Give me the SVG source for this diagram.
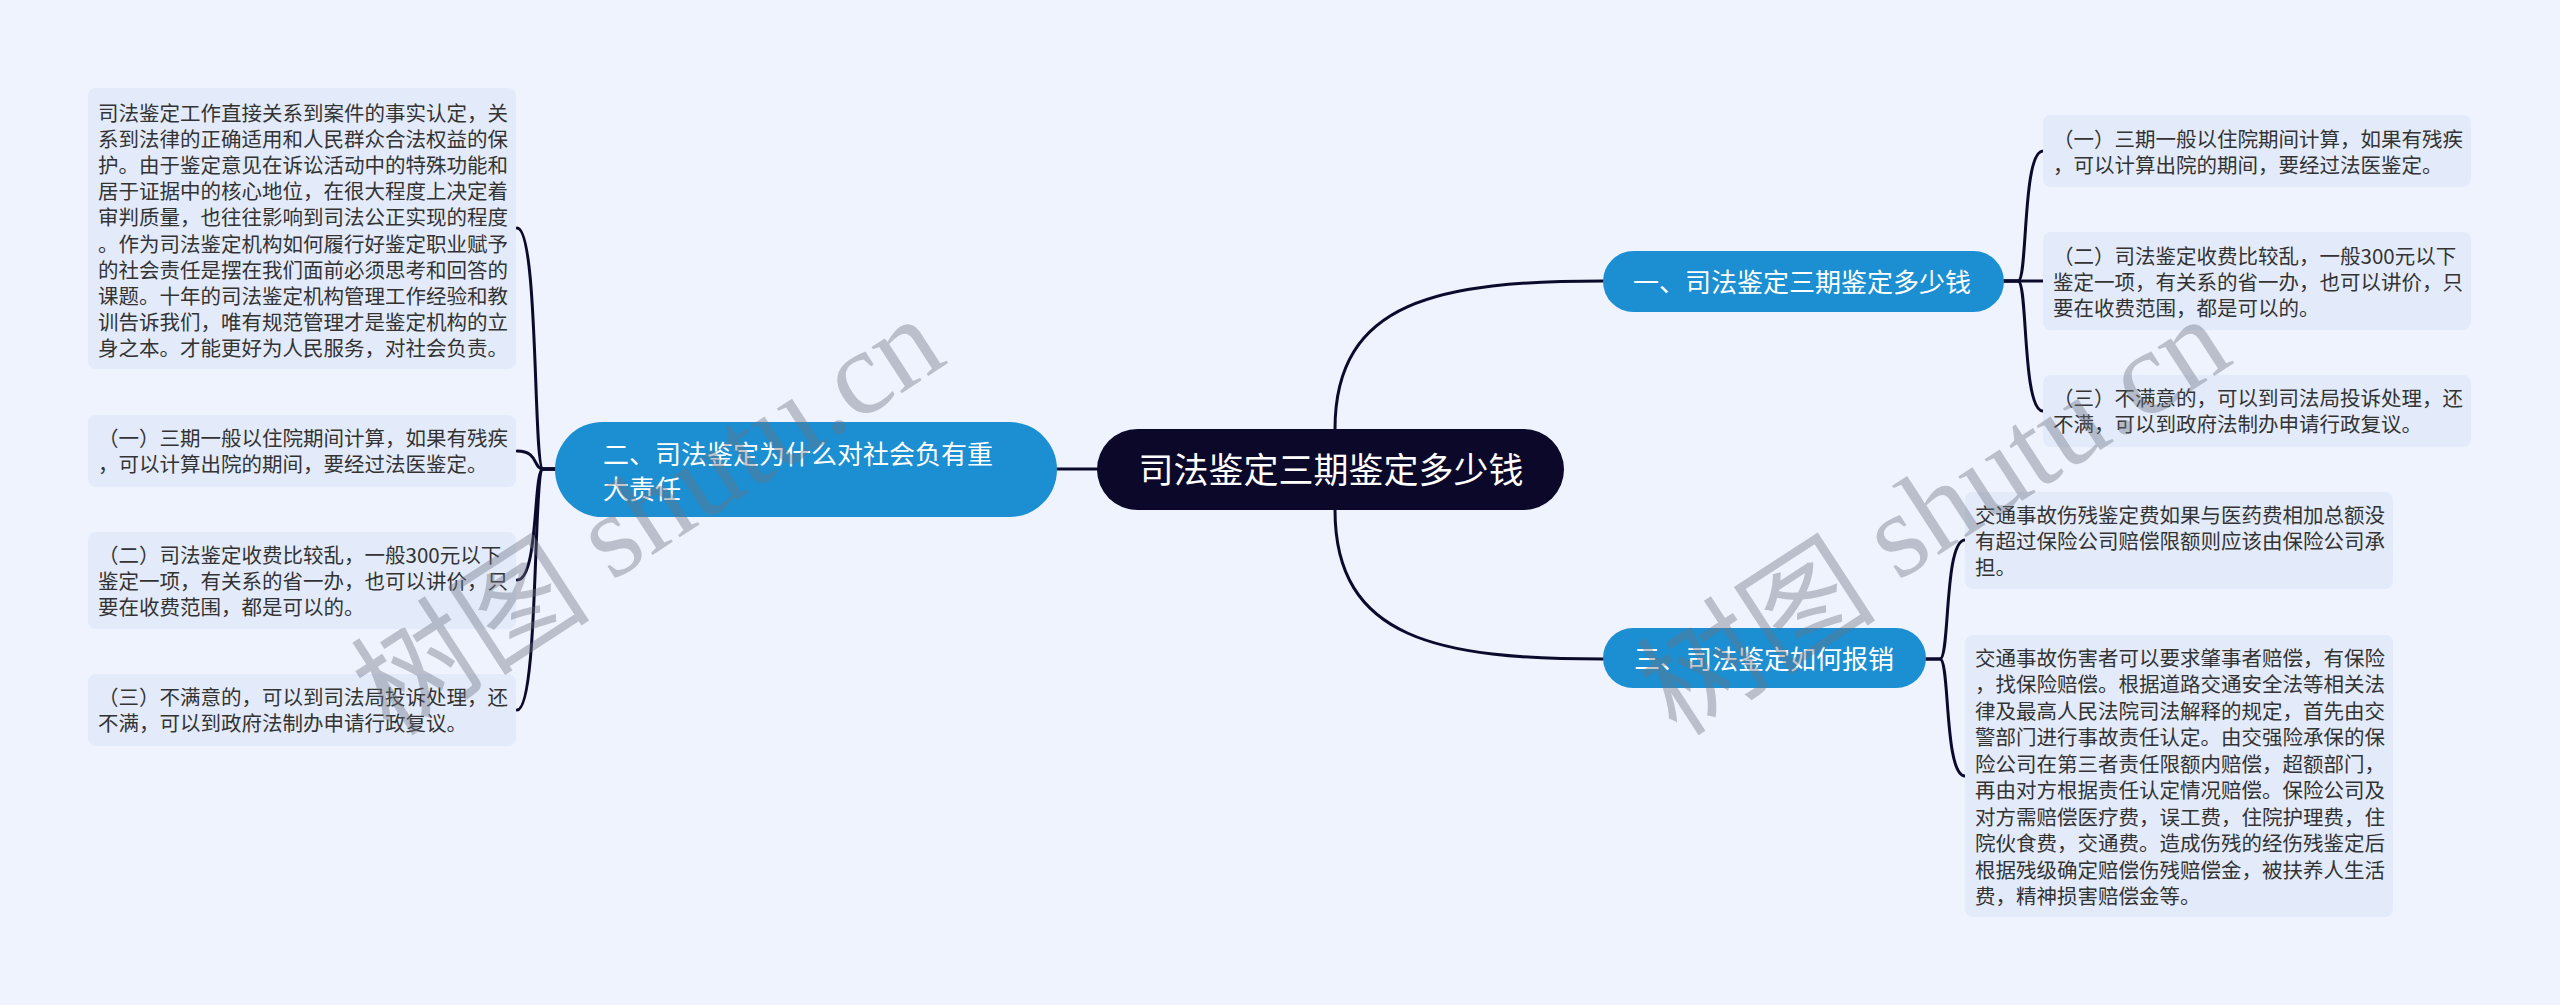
<svg xmlns="http://www.w3.org/2000/svg" width="2560" height="1005" viewBox="0 0 2560 1005">
<style>
.bg{fill:#EEF3FD}
.box{fill:#E3EBFA}
.sub{fill:#1B8FD2}
.root{fill:#0C0829}
.t{font-family:"Noto Sans CJK SC","Noto Sans",sans-serif;font-size:20.5px;fill:#333333}
.st{font-family:"Noto Sans CJK SC","Noto Sans",sans-serif;font-size:26px;fill:#FFFFFF}
.rt{font-family:"Noto Sans CJK SC","Noto Sans",sans-serif;font-size:35px;fill:#FFFFFF}
.ln{fill:none;stroke:#0C0A2C;stroke-width:3;stroke-linecap:round}
.wm{font-size:120px;fill:#6B7080;fill-opacity:0.4}
.wmc{font-family:"Noto Sans CJK SC",sans-serif}
.wml{font-family:"Liberation Serif",serif}
</style>
<rect class="bg" x="0" y="0" width="2560" height="1005"/>

<g id="connectors">
<path class="ln" d="M1057,469 H1097"/>
<path class="ln" d="M1335,429 C1335,300 1440,281 1603,281"/>
<path class="ln" d="M1335,510 C1335,640 1440,659 1603,659"/>
<path class="ln" d="M555,469 L543,469 C533,469 539,228 517,228"/>
<path class="ln" d="M555,469 L543,469 C533,469 539,451 517,451"/>
<path class="ln" d="M555,469 L543,469 C533,469 539,580 517,580"/>
<path class="ln" d="M555,469 L543,469 C533,469 539,710 517,710"/>
<path class="ln" d="M2004,281 L2018,281 C2028,281 2022,151 2043,151"/>
<path class="ln" d="M2004,281 H2043"/>
<path class="ln" d="M2004,281 L2018,281 C2028,281 2022,411 2043,411"/>
<path class="ln" d="M1926,659 L1940,659 C1950,659 1944,540 1965,540"/>
<path class="ln" d="M1926,659 L1940,659 C1950,659 1944,776 1965,776"/>
</g>

<g id="root">
<rect class="root" x="1097" y="429" width="467" height="81" rx="40.5"/>
<text class="rt" x="1331" y="483" text-anchor="middle">司法鉴定三期鉴定多少钱</text>
</g>

<g id="node-1">
<rect class="sub" x="1603" y="251" width="401" height="61" rx="30.5"/>
<text class="st" x="1633" y="292">一、司法鉴定三期鉴定多少钱</text>
</g>

<g id="node-2">
<rect class="sub" x="555" y="422" width="502" height="95" rx="47.5"/>
<text class="st" x="603" y="464">二、司法鉴定为什么对社会负有重</text>
<text class="st" x="603" y="499">大责任</text>
</g>

<g id="node-3">
<rect class="sub" x="1603" y="628" width="323" height="60" rx="30"/>
<text class="st" x="1634" y="669">三、司法鉴定如何报销</text>
</g>

<g id="box-l1">
<rect class="box" x="88" y="88" width="428" height="281" rx="8"/>
<text class="t" x="98" y="121">司法鉴定工作直接关系到案件的事实认定，关</text>
<text class="t" x="98" y="147">系到法律的正确适用和人民群众合法权益的保</text>
<text class="t" x="98" y="173">护。由于鉴定意见在诉讼活动中的特殊功能和</text>
<text class="t" x="98" y="199">居于证据中的核心地位，在很大程度上决定着</text>
<text class="t" x="98" y="225">审判质量，也往往影响到司法公正实现的程度</text>
<text class="t" x="98" y="252">。作为司法鉴定机构如何履行好鉴定职业赋予</text>
<text class="t" x="98" y="278">的社会责任是摆在我们面前必须思考和回答的</text>
<text class="t" x="98" y="304">课题。十年的司法鉴定机构管理工作经验和教</text>
<text class="t" x="98" y="330">训告诉我们，唯有规范管理才是鉴定机构的立</text>
<text class="t" x="98" y="356">身之本。才能更好为人民服务，对社会负责。</text>
</g>

<g id="box-l2">
<rect class="box" x="88" y="415" width="428" height="72" rx="8"/>
<text class="t" x="98" y="446">（一）三期一般以住院期间计算，如果有残疾</text>
<text class="t" x="98" y="472">，可以计算出院的期间，要经过法医鉴定。</text>
</g>

<g id="box-l3">
<rect class="box" x="88" y="532" width="428" height="97" rx="8"/>
<text class="t" x="98" y="563">（二）司法鉴定收费比较乱，一般300元以下</text>
<text class="t" x="98" y="589">鉴定一项，有关系的省一办，也可以讲价，只</text>
<text class="t" x="98" y="615">要在收费范围，都是可以的。</text>
</g>

<g id="box-l4">
<rect class="box" x="88" y="674" width="428" height="72" rx="8"/>
<text class="t" x="98" y="705">（三）不满意的，可以到司法局投诉处理，还</text>
<text class="t" x="98" y="731">不满，可以到政府法制办申请行政复议。</text>
</g>

<g id="box-r1">
<rect class="box" x="2043" y="115" width="428" height="72" rx="8"/>
<text class="t" x="2053" y="147">（一）三期一般以住院期间计算，如果有残疾</text>
<text class="t" x="2053" y="173">，可以计算出院的期间，要经过法医鉴定。</text>
</g>

<g id="box-r2">
<rect class="box" x="2043" y="232" width="428" height="98" rx="8"/>
<text class="t" x="2053" y="264">（二）司法鉴定收费比较乱，一般300元以下</text>
<text class="t" x="2053" y="290">鉴定一项，有关系的省一办，也可以讲价，只</text>
<text class="t" x="2053" y="316">要在收费范围，都是可以的。</text>
</g>

<g id="box-r3">
<rect class="box" x="2043" y="375" width="428" height="72" rx="8"/>
<text class="t" x="2053" y="406">（三）不满意的，可以到司法局投诉处理，还</text>
<text class="t" x="2053" y="432">不满，可以到政府法制办申请行政复议。</text>
</g>

<g id="box-r4">
<rect class="box" x="1965" y="492" width="428" height="97" rx="8"/>
<text class="t" x="1975" y="523">交通事故伤残鉴定费如果与医药费相加总额没</text>
<text class="t" x="1975" y="549">有超过保险公司赔偿限额则应该由保险公司承</text>
<text class="t" x="1975" y="575">担。</text>
</g>

<g id="box-r5">
<rect class="box" x="1965" y="635" width="428" height="282" rx="8"/>
<text class="t" x="1975" y="666">交通事故伤害者可以要求肇事者赔偿，有保险</text>
<text class="t" x="1975" y="692">，找保险赔偿。根据道路交通安全法等相关法</text>
<text class="t" x="1975" y="719">律及最高人民法院司法解释的规定，首先由交</text>
<text class="t" x="1975" y="745">警部门进行事故责任认定。由交强险承保的保</text>
<text class="t" x="1975" y="772">险公司在第三者责任限额内赔偿，超额部门，</text>
<text class="t" x="1975" y="798">再由对方根据责任认定情况赔偿。保险公司及</text>
<text class="t" x="1975" y="825">对方需赔偿医疗费，误工费，住院护理费，住</text>
<text class="t" x="1975" y="851">院伙食费，交通费。造成伤残的经伤残鉴定后</text>
<text class="t" x="1975" y="878">根据残级确定赔偿伤残赔偿金，被扶养人生活</text>
<text class="t" x="1975" y="904">费，精神损害赔偿金等。</text>
</g>

<g id="watermarks">
<text class="wm" transform="translate(645,511) rotate(-33)" text-anchor="middle" dominant-baseline="central"><tspan class="wmc">树图</tspan><tspan class="wml"> shutu.cn</tspan></text>
<text class="wm" transform="translate(1931,511) rotate(-33)" text-anchor="middle" dominant-baseline="central"><tspan class="wmc">树图</tspan><tspan class="wml"> shutu.cn</tspan></text>
</g>
</svg>
